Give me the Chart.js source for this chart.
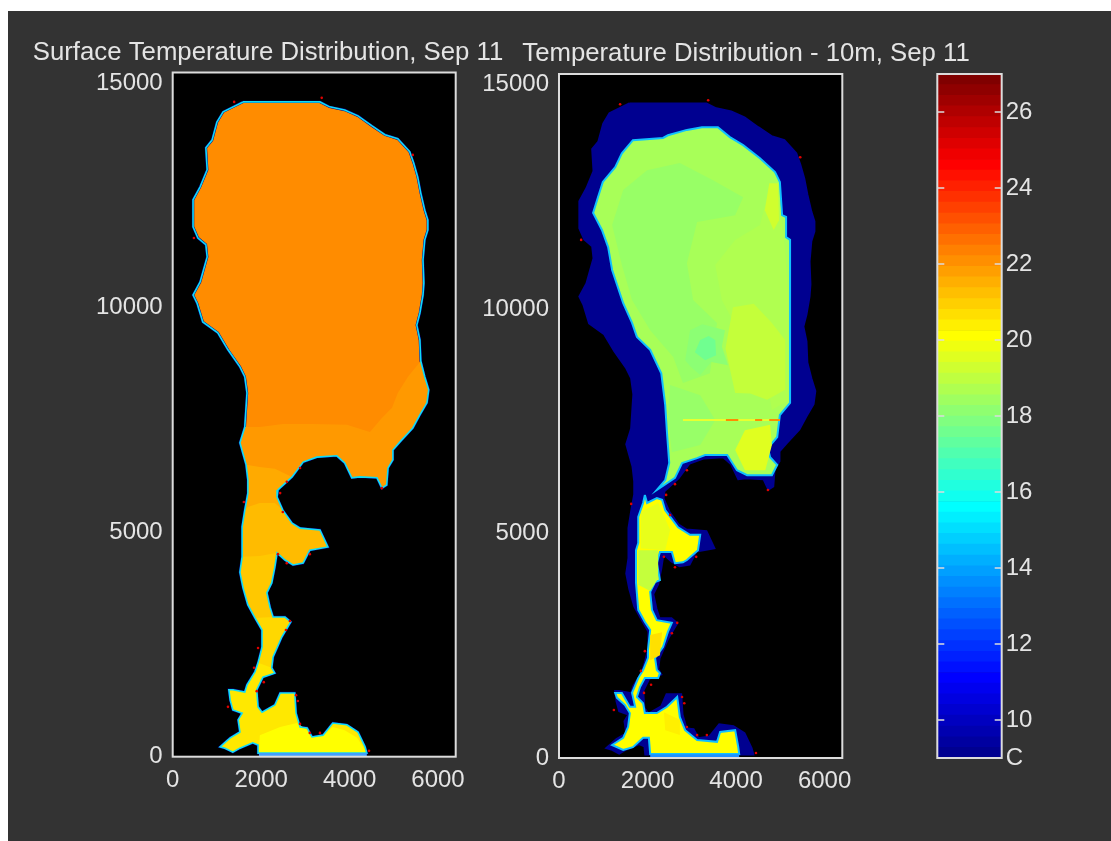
<!DOCTYPE html>
<html lang="en">

<head>
    <meta charset="UTF-8">
    <title>Temperature Distribution, Sep 11</title>
    <script src="https://cdn.jsdelivr.net/npm/chart.js"></script>
    <style>
        html, body { margin: 0; padding: 0; background: #fff; overflow: hidden; }
        #figure { position: absolute; left: 8px; top: 11px; width: 1103px; height: 830px; background: #333; }
        canvas { position: absolute; top: 0; }
    </style>
</head>

<body>
    <div id="figure"></div>
    <canvas id="surfaceChart" width="536" height="841" style="left:0"></canvas>
    <canvas id="depthChart" width="532" height="841" style="left:480px"></canvas>
    <canvas id="colorbarChart" width="140" height="841" style="left:920px"></canvas>

    <script>
        const surfaceTitle = "Surface Temperature Distribution, Sep 11";
        const depthTitle = "Temperature Distribution - 10m, Sep 11";

        const xTicks = [0, 2000, 4000, 6000];
        const yTicks = [0, 5000, 10000, 15000];
        const colorbarTicks = [9, 10, 12, 14, 16, 18, 20, 22, 24, 26];

        // lake shoreline, clockwise from the north end
        const coastX = [1590, 3330, 3550, 3890, 4190, 4500, 4800, 5090, 5360, 5450, 5540, 5610, 5700, 5770, 5770, 5700, 5660, 5680, 5660, 5590, 5520, 5590, 5610, 5700, 5790, 5750, 5590, 5430, 5140, 4980, 4980, 4870, 4840, 4730, 4620, 4230, 4050, 3890, 3710, 3260, 2950, 2700, 2380, 2360, 2490, 2700, 2880, 3330, 3510, 3100, 2950, 2720, 2540, 2360, 2310, 2240, 2130, 2200, 2270, 2540, 2670, 2470, 2270, 2240, 2310, 2040, 1900, 1930, 2020, 2310, 2430, 2760, 2790, 2880, 3040, 3150, 3400, 3620, 3940, 4190, 4350, 4390, 1950, 1930, 1810, 1520, 1360, 1180, 1070, 1300, 1520, 1480, 1570, 1360, 1300, 1270, 1360, 1630, 1680, 1860, 1930, 2020, 2020, 1860, 1700, 1590, 1520, 1570, 1570, 1630, 1700, 1700, 1660, 1520, 1630, 1680, 1630, 1520, 1250, 1020, 680, 550, 460, 620, 780, 750, 570, 460, 460, 620, 780, 750, 890, 1000, 1140];
        const coastY = [14580, 14580, 14470, 14400, 14270, 14050, 13850, 13760, 13470, 13220, 12910, 12550, 12170, 11950, 11730, 11510, 11060, 10550, 10280, 9880, 9610, 9280, 8810, 8460, 8170, 7880, 7610, 7320, 7010, 6830, 6610, 6430, 6050, 5980, 6210, 6230, 6210, 6540, 6700, 6670, 6560, 6230, 5940, 5780, 5490, 5200, 5090, 5050, 4670, 4600, 4310, 4270, 4380, 4540, 4220, 3870, 3650, 3330, 3110, 3110, 3000, 2670, 2220, 1980, 1860, 1770, 1490, 1110, 990, 1150, 1420, 1420, 970, 660, 640, 440, 480, 750, 710, 550, 220, 80, 80, 260, 310, 190, 100, 190, 220, 420, 550, 820, 970, 1040, 1260, 1490, 1490, 1440, 1600, 1890, 2090, 2440, 2820, 3090, 3380, 3760, 4110, 4450, 5120, 5490, 5870, 6160, 6500, 6990, 7340, 8100, 8460, 8680, 9060, 9440, 9680, 10100, 10280, 10570, 11130, 11400, 11550, 11800, 12400, 12690, 13070, 13560, 13730, 14130, 14360];

        // where each surface temperature band leaves the shoreline [start, end) and its closing edge
        const band1Range = [22, 115];
        const band1EdgeX = [1970, 2490, 3170, 3940, 4460, 4730, 4960, 5090, 5320];
        const band1EdgeY = [7340, 7410, 7410, 7390, 7230, 7540, 7770, 8100, 8460];
        const band2Range = [41, 113];
        const band2EdgeX = [1970, 2310];
        const band2EdgeY = [6450, 6410];
        const band3Range = [44, 110];
        const band3EdgeX = [1700, 1970, 2310];
        const band3EdgeY = [5560, 5650, 5650];
        const band4Range = [53, 108];
        const band4EdgeX = [1970];
        const band4EdgeY = [4470];
        const band5Range = [58, 104];
        const band6Range = [63, 101];

        const surfaceBasinX = [1950, 1970, 2430, 2810, 3040, 3150, 3400, 3620, 3890, 4170, 4350, 4350];
        const surfaceBasinY = [100, 480, 660, 750, 590, 440, 480, 660, 590, 420, 150, 100];

        const surfaceStripX = [1950, 4390];
        const surfaceStripY = [50, 50];

        const surfaceDotsX = [1390, 3370, 5430, 480, 2880, 2580, 2430, 1610, 2490, 2380, 3100, 2580, 2650, 2560, 1930, 1840, 2060, 1900, 1250, 2790, 2830, 2880, 3100, 3330, 4440, 4730];
        const surfaceDotsY = [14580, 14670, 13400, 11550, 6430, 6120, 5870, 5670, 5450, 4510, 4510, 4310, 3020, 2820, 2420, 1980, 1660, 1460, 1110, 1370, 1240, 730, 530, 530, 130, 5980];

        // 10 m panel, warm water above the thermocline
        const northX = [2890, 3230, 3590, 3860, 4160, 4540, 4880, 4990, 5040, 5130, 5130, 5220, 5220, 5220, 4990, 4930, 4720, 4770, 4930, 4810, 4250, 4020, 3800, 3300, 3120, 2780, 2620, 2210, 2400, 2490, 2440, 2400, 2310, 2060, 1760, 1650, 1450, 1200, 1110, 970, 770, 880, 990, 1270, 1420, 1670, 2350, 2460];
        const northY = [13990, 14050, 14050, 13830, 13650, 13360, 13050, 12830, 12090, 12050, 11600, 11540, 10200, 7910, 7640, 7150, 6900, 6700, 6530, 6300, 6300, 6410, 6750, 6750, 6680, 6570, 6240, 5970, 6190, 6570, 7240, 7860, 8570, 9090, 9380, 9690, 10130, 10870, 11380, 11760, 12140, 12490, 12830, 13160, 13470, 13760, 13810, 13870];

        const southX = [1940, 1990, 2210, 2330, 2400, 2690, 2960, 3190, 3140, 2890, 2800, 2620, 2550, 2280, 2210, 2280, 2170, 2060, 2100, 2210, 2440, 2550, 2460, 2350, 2170, 2210, 2280, 2240, 1940, 1830, 1760, 1900, 1940, 2210, 2440, 2670, 2730, 2850, 3120, 3570, 3640, 3980, 4050, 4070, 2060, 2030, 1900, 1670, 1450, 1200, 1450, 1560, 1600, 1490, 1310, 1270, 1420, 1600, 1720, 1650, 1790, 1900, 2010, 2010, 2060, 1940, 1790, 1740, 1740, 1790, 1790, 1900];
        const southY = [5860, 5680, 5790, 5750, 5520, 5140, 4970, 4970, 4630, 4410, 4360, 4340, 4590, 4590, 4340, 3960, 3920, 3700, 3300, 3070, 3030, 3010, 2810, 2470, 2230, 1960, 1890, 1780, 1780, 1580, 1360, 1220, 1000, 1000, 1140, 1360, 910, 620, 400, 360, 580, 620, 240, 90, 90, 450, 450, 240, 180, 290, 450, 690, 1000, 1180, 1340, 1450, 1450, 1140, 1140, 1450, 1780, 1960, 2230, 2410, 2850, 3030, 3300, 3900, 4630, 4790, 5370, 5680];

        const greenPatchX = [1450, 1990, 2730, 3480, 4160, 3980, 3120, 2890, 3030, 3570, 3410, 2800, 2580, 2060, 1650, 1420, 1200];
        const greenPatchY = [12650, 13090, 13250, 12870, 12490, 12090, 11940, 11020, 10200, 9690, 8570, 8350, 8930, 9530, 10200, 10980, 11870];
        const yellowPatchX = [4770, 4950, 5020, 5110, 5180, 5180, 4810, 4540, 3980, 3680, 3530, 3980, 4540];
        const yellowPatchY = [12760, 12760, 12030, 11310, 10200, 7970, 7750, 9310, 9640, 10200, 10980, 11540, 11870];
        const eastGlowX = [4750, 4950, 4970, 4850, 4650];
        const eastGlowY = [12800, 12800, 11980, 11760, 12200];
        const lowerEastX = [3930, 4400, 4800, 5110, 5110, 4700, 4320, 3980, 3760];
        const lowerEastY = [10040, 10120, 9700, 9310, 8200, 7980, 8120, 8130, 9120];
        const lowerWestX = [2510, 3190, 3530, 3190, 2550, 2460];
        const lowerWestY = [8310, 8080, 7530, 6970, 6810, 7530];
        const coolHaloX = [2960, 3240, 3750, 3680, 3820, 3440, 3190, 2980, 2850];
        const coolHaloY = [9530, 9660, 9530, 9160, 8750, 8820, 8530, 8710, 8860];
        const coolPatchX = [3190, 3380, 3530, 3550, 3300, 3070];
        const coolPatchY = [9310, 9400, 9310, 8970, 8860, 9040];
        const bayPatchX = [4200, 4770, 4810, 4660, 4200, 3980];
        const bayPatchY = [7300, 7420, 6970, 6410, 6410, 6860];
        const narrowsPatchX = [1790, 2240, 2240, 2060, 1790];
        const narrowsPatchY = [4630, 4630, 4000, 3720, 3860];
        const midPatchX = [1850, 2240, 2510, 2400, 1830];
        const midPatchY = [5480, 5680, 5080, 4630, 4670];
        const warmPatch1X = [2060, 2330, 2280, 2060];
        const warmPatch1Y = [2740, 2800, 2290, 2180];
        const warmPatch2X = [2370, 2730, 2730, 2400];
        const warmPatch2Y = [1020, 850, 510, 620];

        const streakX = [2800, 4990];
        const streakY = [7530, 7530];
        const hotStreakX = [3770, 4050, null, 4430, 4590, null, 4750, 4990];
        const hotStreakY = [7530, 7530, null, 7530, 7530, null, 7530, 7530];

        const depthStripX = [2060, 4070];
        const depthStripY = [50, 50];

        const depthDotsX = [1380, 3370, 5450, 500, 2890, 2620, 2420, 1630, 2510, 4720, 2370, 3100, 2620, 2670, 2550, 1940, 1850, 2080, 1920, 1240, 2780, 2830, 2890, 3120, 3340, 4450];
        const depthDotsY = [14560, 14650, 13380, 11540, 6410, 6100, 5860, 5660, 5410, 5970, 4480, 4480, 4250, 3010, 2780, 2380, 1940, 1630, 1450, 1070, 1360, 1220, 690, 510, 510, 110];

        // colour bar bands, bottom to top
        const bandEdges = [9, 9.28, 9.56, 9.84, 10.13, 10.41, 10.69, 10.97, 11.25, 11.53, 11.81, 12.09, 12.38, 12.66, 12.94, 13.22, 13.5, 13.78, 14.06, 14.34, 14.63, 14.91, 15.19, 15.47, 15.75, 16.03, 16.31, 16.59, 16.88, 17.16, 17.44, 17.72, 18, 18.28, 18.56, 18.84, 19.13, 19.41, 19.69, 19.97, 20.25, 20.53, 20.81, 21.09, 21.38, 21.66, 21.94, 22.22, 22.5, 22.78, 23.06, 23.34, 23.63, 23.91, 24.19, 24.47, 24.75, 25.03, 25.31, 25.59, 25.88, 26.16, 26.44, 26.72, 27];
        const bandColors = [
            "#000090", "#0000a0", "#0000b0", "#0000c0", "#0000d0", "#0000e0", "#0000ef", "#0000ff",
            "#0010ff", "#0020ff", "#0030ff", "#0040ff", "#0050ff", "#0060ff", "#0070ff", "#0080ff",
            "#008fff", "#009fff", "#00afff", "#00bfff", "#00cfff", "#00dfff", "#00efff", "#00ffff",
            "#10ffef", "#20ffdf", "#30ffcf", "#40ffbf", "#50ffaf", "#60ff9f", "#70ff8f", "#80ff80",
            "#8fff70", "#9fff60", "#afff50", "#bfff40", "#cfff30", "#dfff20", "#efff10", "#ffff00",
            "#ffef00", "#ffdf00", "#ffcf00", "#ffbf00", "#ffaf00", "#ff9f00", "#ff8f00", "#ff8000",
            "#ff7000", "#ff6000", "#ff5000", "#ff4000", "#ff3000", "#ff2000", "#ff1000", "#ff0000",
            "#ef0000", "#df0000", "#cf0000", "#bf0000", "#af0000", "#9f0000", "#8f0000", "#800000"
        ];

        const TEXT_COLOR = "#e4e4e4";
        const BOX_COLOR = "#dcdcdc";
        const FONT = "'Liberation Sans', Arial, sans-serif";
        const TITLE_SIZE = 25.75;
        const TICK_SIZE = 24;

        function toPoints(xs, ys) {
            return xs.map((x, i) => ({ x: x, y: ys[i] }));
        }

        // closed filled polygon
        function shape(xs, ys, color, edgeColor, edgeWidth) {
            let points = toPoints(xs, ys);
            points.push(points[0]);
            return {
                data: points,
                showLine: true,
                fill: color ? "shape" : false,
                backgroundColor: color || "transparent",
                borderColor: edgeColor || "transparent",
                borderWidth: edgeWidth || 0,
                pointRadius: 0
            };
        }

        function stroke(xs, ys, color, width) {
            return {
                data: toPoints(xs, ys),
                showLine: true,
                fill: false,
                borderColor: color,
                borderWidth: width,
                pointRadius: 0
            };
        }

        function dots(xs, ys) {
            return {
                data: toPoints(xs, ys),
                showLine: false,
                pointRadius: 1.3,
                pointBorderWidth: 0,
                pointBackgroundColor: "#e00000"
            };
        }

        // part of the shoreline closed off by a band edge
        function band(range, edgeX, edgeY, color) {
            let xs = coastX.slice(range[0], range[1]).concat(edgeX);
            let ys = coastY.slice(range[0], range[1]).concat(edgeY);
            return shape(xs, ys, color);
        }

        const axesBox = {
            id: "axesBox",
            beforeDatasetsDraw(chart) {
                if (chart.canvas.id === "colorbarChart") return;
                let a = chart.chartArea;
                chart.ctx.fillStyle = "#000";
                chart.ctx.fillRect(a.left, a.top, a.right - a.left, a.bottom - a.top);
            },
            afterDraw(chart) {
                let a = chart.chartArea;
                let ctx = chart.ctx;
                ctx.save();
                ctx.strokeStyle = BOX_COLOR;
                ctx.lineWidth = 2;
                ctx.strokeRect(a.left, a.top, a.right - a.left, a.bottom - a.top);
                if (chart.canvas.id === "colorbarChart") {
                    let scale = chart.scales.y;
                    scale.ticks.forEach(t => {
                        let y = scale.getPixelForValue(t.value);
                        ctx.beginPath();
                        ctx.moveTo(a.left, y);
                        ctx.lineTo(a.left + 7, y);
                        ctx.moveTo(a.right - 7, y);
                        ctx.lineTo(a.right, y);
                        ctx.lineWidth = 1.5;
                        ctx.stroke();
                    });
                }
                ctx.restore();
            }
        };

        function drawPanel(id, title, titleTop, layers, axes) {
            new Chart(document.getElementById(id), {
                type: "scatter",
                data: { datasets: layers.slice().reverse() },
                plugins: [axesBox],
                options: {
                    responsive: false,
                    animation: false,
                    layout: {
                        padding: { left: 0, right: 0, top: titleTop, bottom: axes.bottomGap }
                    },
                    plugins: {
                        legend: { display: false },
                        tooltip: { enabled: false },
                        title: {
                            display: true,
                            text: title,
                            align: "center",
                            color: TEXT_COLOR,
                            font: { family: FONT, size: TITLE_SIZE, weight: "normal" },
                            padding: { top: 0, bottom: axes.top - titleTop - TITLE_SIZE * 1.2 }
                        }
                    },
                    scales: {
                        x: {
                            type: "linear",
                            min: 0,
                            max: 6400,
                            grid: { display: false, drawTicks: false },
                            border: { display: false },
                            afterBuildTicks(s) { s.ticks = xTicks.map(v => ({ value: v })); },
                            afterFit(s) { s.height = 40; },
                            ticks: {
                                color: TEXT_COLOR,
                                font: { family: FONT, size: TICK_SIZE },
                                padding: 9,
                                maxRotation: 0,
                                autoSkip: false,
                                callback: v => String(v)
                            }
                        },
                        y: {
                            type: "linear",
                            min: 0,
                            max: 15235,
                            grid: { display: false, drawTicks: false },
                            border: { display: false },
                            afterBuildTicks(s) { s.ticks = yTicks.map(v => ({ value: v })); },
                            afterFit(s) { s.width = axes.left; },
                            ticks: {
                                color: TEXT_COLOR,
                                font: { family: FONT, size: TICK_SIZE },
                                padding: 10,
                                autoSkip: false,
                                callback: v => String(v)
                            }
                        },
                        // empty axis that keeps the space right of the box, the title still spans the canvas
                        gap: {
                            type: "linear",
                            position: "right",
                            grid: { display: false, drawTicks: false },
                            border: { display: false },
                            ticks: { display: false },
                            afterFit(s) { s.width = axes.rightGap; }
                        }
                    }
                }
            });
        }

        // layers listed bottom to top
        drawPanel("surfaceChart", surfaceTitle, 37, [
            shape(coastX, coastY, "#ff8c00", "#000090", 2.4),
            band(band1Range, band1EdgeX, band1EdgeY, "#ff9900"),
            band(band2Range, band2EdgeX, band2EdgeY, "#ffaa00"),
            band(band3Range, band3EdgeX, band3EdgeY, "#ffbb00"),
            band(band4Range, band4EdgeX, band4EdgeY, "#ffc800"),
            band(band5Range, [], [], "#ffd800"),
            band(band6Range, [], [], "#ffe800"),
            shape(surfaceBasinX, surfaceBasinY, "#ffff00"),
            shape(coastX, coastY, null, "#10dcf4", 1.6),
            stroke(surfaceStripX, surfaceStripY, "#3fa0ff", 3),
            dots(surfaceDotsX, surfaceDotsY)
        ], { left: 172.7, top: 72.5, rightGap: 80.3, bottomGap: 44.3 });

        drawPanel("depthChart", depthTitle, 38.5, [
            shape(coastX, coastY, "#000090", "#000090", 2),
            shape(northX, northY, "#a8ff58", "#10c0ff", 2),
            shape(southX, southY, "#ffff00", "#10c0ff", 2),
            shape(greenPatchX, greenPatchY, "#98ff66"),
            shape(yellowPatchX, yellowPatchY, "#b0ff50"),
            shape(eastGlowX, eastGlowY, "#d0ff2e"),
            shape(lowerEastX, lowerEastY, "#c4ff3a"),
            shape(lowerWestX, lowerWestY, "#98ff68"),
            shape(coolHaloX, coolHaloY, "#8cff74"),
            shape(coolPatchX, coolPatchY, "#70ff90"),
            shape(bayPatchX, bayPatchY, "#e0ff20"),
            shape(narrowsPatchX, narrowsPatchY, "#c4ff3c"),
            shape(midPatchX, midPatchY, "#e8ff1a"),
            shape(warmPatch1X, warmPatch1Y, "#ffe000"),
            shape(warmPatch2X, warmPatch2Y, "#fff000"),
            stroke(streakX, streakY, "#e8ff30", 2),
            stroke(hotStreakX, hotStreakY, "#ff8c00", 2),
            stroke(depthStripX, depthStripY, "#2090ff", 3),
            dots(depthDotsX, depthDotsY)
        ], { left: 79, top: 74, rightGap: 169.7, bottomGap: 43 });

        // one floating bar per colour band, all sharing the same slot
        new Chart(document.getElementById("colorbarChart"), {
            type: "bar",
            data: {
                labels: ["C"],
                datasets: bandColors.map((color, i) => ({
                    data: [[bandEdges[i], bandEdges[i + 1]]],
                    backgroundColor: color,
                    barPercentage: 1,
                    categoryPercentage: 1
                }))
            },
            plugins: [axesBox],
            options: {
                responsive: false,
                animation: false,
                layout: { padding: { left: 17.3, right: 18.3, top: 74, bottom: 83 } },
                plugins: {
                    legend: { display: false },
                    tooltip: { enabled: false }
                },
                scales: {
                    x: { display: false, stacked: true },
                    y: {
                        position: "right",
                        min: 9,
                        max: 27,
                        stacked: false,
                        grid: { display: false, drawTicks: false },
                        border: { display: false },
                        afterBuildTicks(s) { s.ticks = colorbarTicks.map(v => ({ value: v })); },
                        afterFit(s) { s.width = 40; },
                        ticks: {
                            color: TEXT_COLOR,
                            font: { family: FONT, size: TICK_SIZE },
                            padding: 4,
                            autoSkip: false,
                            callback: v => (v === colorbarTicks[0] ? "C" : String(v))
                        }
                    }
                }
            }
        });
    </script>
</body>

</html>
